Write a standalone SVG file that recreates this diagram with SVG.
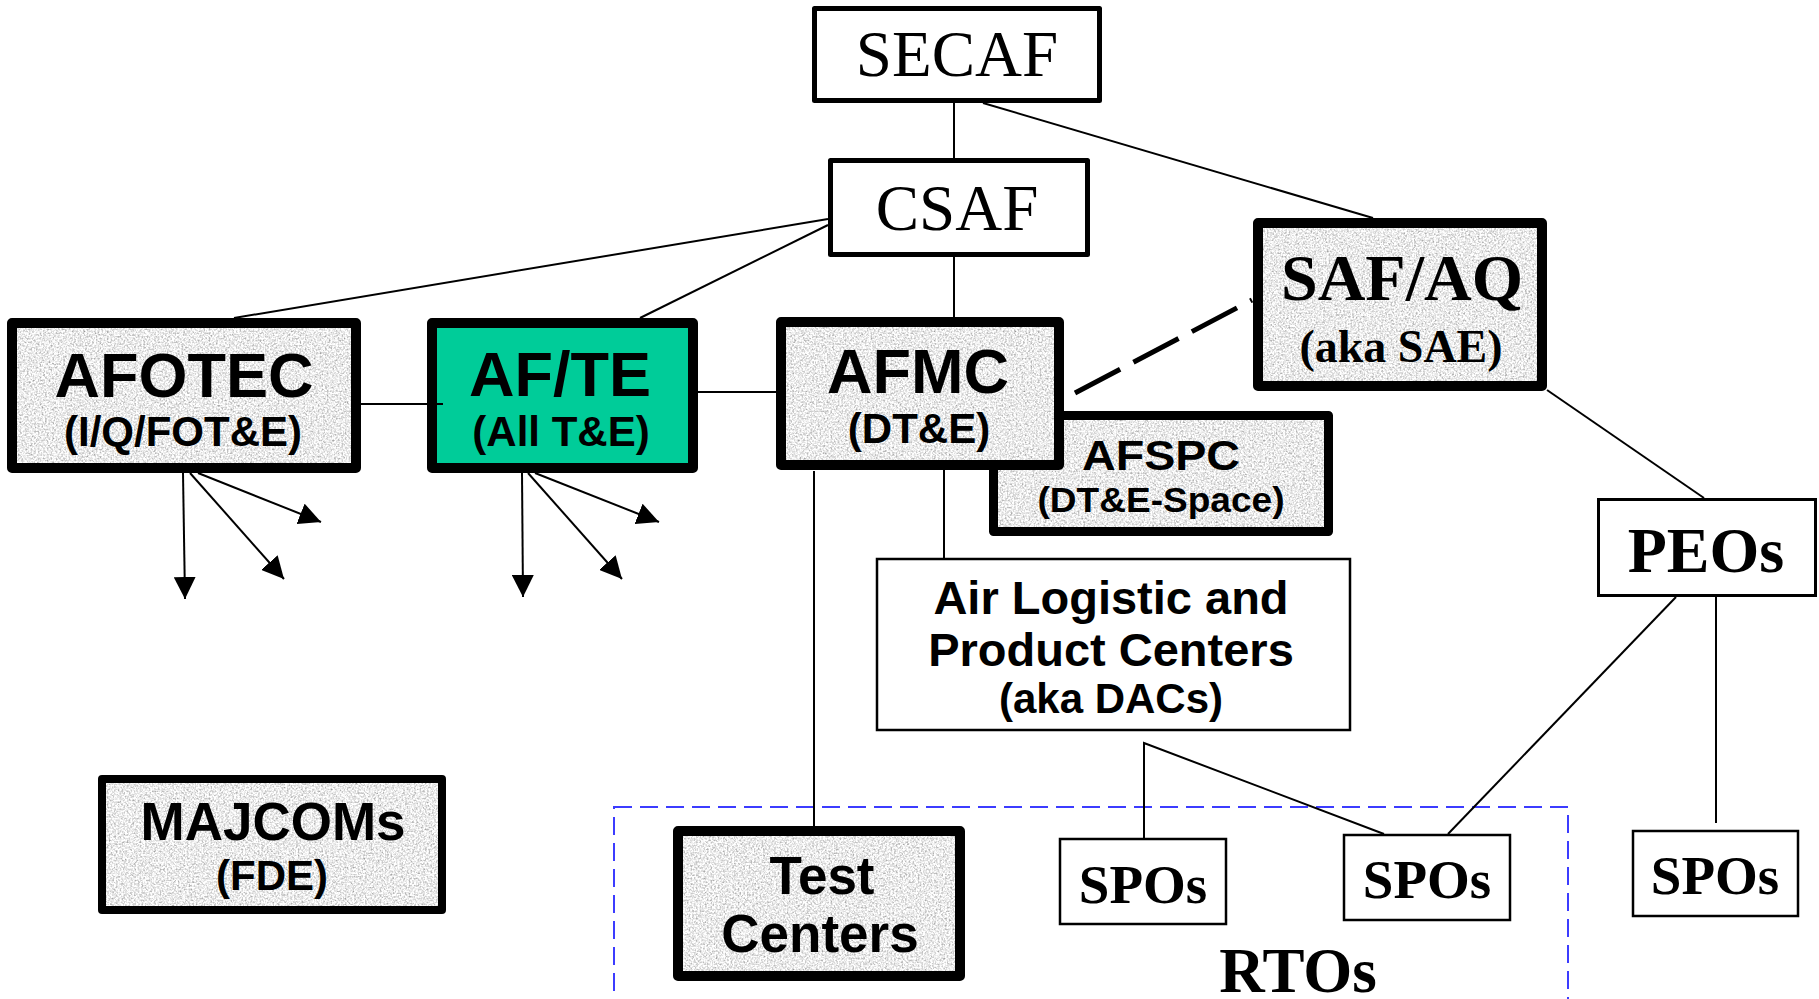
<svg xmlns="http://www.w3.org/2000/svg" width="1819" height="999" viewBox="0 0 1819 999">
  <defs>
    <style>
      .thick { fill: none; stroke: #000; stroke-width: 10; stroke-linejoin: round; }
      .mid { fill: none; stroke: #000; stroke-width: 5; stroke-linejoin: round; }
      .thin { fill: #fff; stroke: #000; stroke-width: 2.5; }
      .gray { fill: #e6e6e6; filter: url(#speckle); }
      .green { fill: #00cc99; }
      .sans { font-family: "Liberation Sans", Arial, sans-serif; font-weight: bold; text-anchor: middle; fill: #000; }
      .serif { font-family: "Liberation Serif", "Times New Roman", serif; text-anchor: middle; fill: #000; }
      .serifb { font-family: "Liberation Serif", "Times New Roman", serif; font-weight: bold; text-anchor: middle; fill: #000; }
      .conn { fill: none; stroke: #000; stroke-width: 2; }
      .arrow { fill: none; stroke: #000; stroke-width: 2; marker-end: url(#arrowhead); }
      .dash { fill: none; stroke: #000; stroke-width: 5; stroke-dasharray: 51 15; }
      .rto { fill: none; stroke: #3c3cff; stroke-width: 2; stroke-dasharray: 18 8; }
    </style>
    <filter id="speckle" x="0" y="0" width="100%" height="100%" color-interpolation-filters="sRGB">
      <feTurbulence type="fractalNoise" baseFrequency="0.55" numOctaves="2" seed="7" result="noise"/>
      <feColorMatrix in="noise" type="matrix" values="0.5 0.5 0 0 0.42  0.5 0.5 0 0 0.42  0.5 0.5 0 0 0.42  0 0 0 0 1" result="g"/>
      <feComposite in="g" in2="SourceGraphic" operator="in"/>
    </filter>
    <marker id="arrowhead" markerUnits="userSpaceOnUse" markerWidth="22" markerHeight="22" refX="22" refY="11" orient="auto">
      <path d="M0,0 L22,11 L0,22 z" fill="#000"/>
    </marker>
  </defs>

  <rect width="1819" height="999" fill="#fff"/>

  <!-- RTOs grouping -->
  <g id="rtos">
    <rect class="rto" x="614" y="807" width="954" height="230"/>
    <text class="serifb" x="1298" y="992" font-size="63">RTOs</text>
  </g>

  <g id="secaf">
    <rect class="mid" x="814.5" y="8.5" width="285" height="92" fill="#fff"/>
    <text class="serif" x="957" y="76" font-size="65">SECAF</text>
  </g>

  <g id="csaf">
    <rect class="mid" x="830.5" y="160.5" width="257" height="94" fill="#fff"/>
    <text class="serif" x="957" y="230" font-size="65">CSAF</text>
  </g>

  <g id="safaq">
    <rect class="gray" x="1258" y="223" width="284" height="163"/>
    <rect class="thick" x="1258" y="223" width="284" height="163"/>
    <text class="serifb" x="1402" y="300" font-size="66">SAF/AQ</text>
    <text class="serifb" x="1401" y="362" font-size="46">(aka SAE)</text>
  </g>

  <g id="afotec">
    <rect class="gray" x="12" y="323" width="344" height="145"/>
    <rect class="thick" x="12" y="323" width="344" height="145"/>
    <text class="sans" x="184" y="397" font-size="63">AFOTEC</text>
    <text class="sans" x="183" y="446" font-size="42">(I/Q/FOT&amp;E)</text>
  </g>

  <g id="afte">
    <rect class="green" x="432" y="323" width="261" height="145"/>
    <rect class="thick" x="432" y="323" width="261" height="145"/>
    <text class="sans" x="560" y="396" font-size="63">AF/TE</text>
    <text class="sans" x="561" y="446" font-size="42">(All T&amp;E)</text>
  </g>

  <g id="afspc">
    <rect class="gray" x="993.5" y="415.5" width="335" height="116"/>
    <rect class="thick" style="stroke-width:9" x="993.5" y="415.5" width="335" height="116"/>
    <text class="sans" x="1161" y="470" font-size="43" textLength="158" lengthAdjust="spacingAndGlyphs">AFSPC</text>
    <text class="sans" x="1161" y="512" font-size="35" textLength="247" lengthAdjust="spacingAndGlyphs">(DT&amp;E-Space)</text>
  </g>

  <g id="afmc">
    <rect class="gray" x="781" y="322" width="278" height="143"/>
    <rect class="thick" x="781" y="322" width="278" height="143"/>
    <text class="sans" x="918" y="393" font-size="63">AFMC</text>
    <text class="sans" x="919" y="443" font-size="42">(DT&amp;E)</text>
  </g>

  <g id="airlog">
    <rect class="thin" x="877" y="559" width="473" height="171"/>
    <text class="sans" x="1111" y="614" font-size="47">Air Logistic and</text>
    <text class="sans" x="1111" y="666" font-size="47">Product Centers</text>
    <text class="sans" x="1111" y="713" font-size="42">(aka DACs)</text>
  </g>

  <g id="peos">
    <rect class="thin" style="stroke-width:3" x="1598.5" y="499.5" width="217" height="96"/>
    <text class="serifb" x="1706" y="572" font-size="64">PEOs</text>
  </g>

  <g id="majcoms">
    <rect class="gray" x="102" y="779" width="340" height="131"/>
    <rect class="thick" style="stroke-width:8" x="102" y="779" width="340" height="131"/>
    <text class="sans" x="273" y="840" font-size="53">MAJCOMs</text>
    <text class="sans" x="272" y="890" font-size="42">(FDE)</text>
  </g>

  <g id="testcenters">
    <rect class="gray" x="678" y="831" width="282" height="145"/>
    <rect class="thick" x="678" y="831" width="282" height="145"/>
    <text class="sans" x="822" y="894" font-size="53">Test</text>
    <text class="sans" x="820" y="952" font-size="53">Centers</text>
  </g>

  <g id="spos-left">
    <rect class="thin" x="1060" y="839" width="166" height="85"/>
    <text class="serifb" x="1143" y="903" font-size="55">SPOs</text>
  </g>

  <g id="spos-mid">
    <rect class="thin" x="1344" y="835" width="166" height="85"/>
    <text class="serifb" x="1427" y="898" font-size="55">SPOs</text>
  </g>

  <g id="spos-right">
    <rect class="thin" x="1633" y="831" width="165" height="85"/>
    <text class="serifb" x="1715" y="894" font-size="55">SPOs</text>
  </g>

  <g id="connectors">
    <line class="conn" x1="954" y1="103" x2="954" y2="158"/>
    <line class="conn" x1="983" y1="103" x2="1373" y2="218"/>
    <line class="conn" x1="828" y1="219" x2="234" y2="318"/>
    <line class="conn" x1="828" y1="225" x2="640" y2="318"/>
    <line class="conn" x1="954" y1="257" x2="954" y2="317"/>
    <line class="conn" x1="361" y1="404" x2="443" y2="404"/>
    <line class="conn" x1="698" y1="392" x2="777" y2="392"/>
    <line class="dash" x1="1075" y1="393" x2="1252" y2="300"/>
    <line class="conn" x1="814" y1="471" x2="814" y2="826"/>
    <line class="conn" x1="944" y1="460" x2="944" y2="559"/>
    <line class="conn" x1="1547" y1="390" x2="1704" y2="498"/>
    <line class="conn" x1="1676" y1="597" x2="1448" y2="834"/>
    <line class="conn" x1="1716" y1="597" x2="1716" y2="823"/>
    <polyline class="conn" points="1144,838 1144,743 1384,834"/>
    <line class="arrow" x1="183" y1="473" x2="185" y2="599"/>
    <line class="arrow" x1="190" y1="473" x2="284" y2="579"/>
    <line class="arrow" x1="198" y1="473" x2="321" y2="522"/>
    <line class="arrow" x1="522" y1="473" x2="523" y2="597"/>
    <line class="arrow" x1="528" y1="473" x2="622" y2="579"/>
    <line class="arrow" x1="535" y1="473" x2="659" y2="522"/>
  </g>
</svg>
